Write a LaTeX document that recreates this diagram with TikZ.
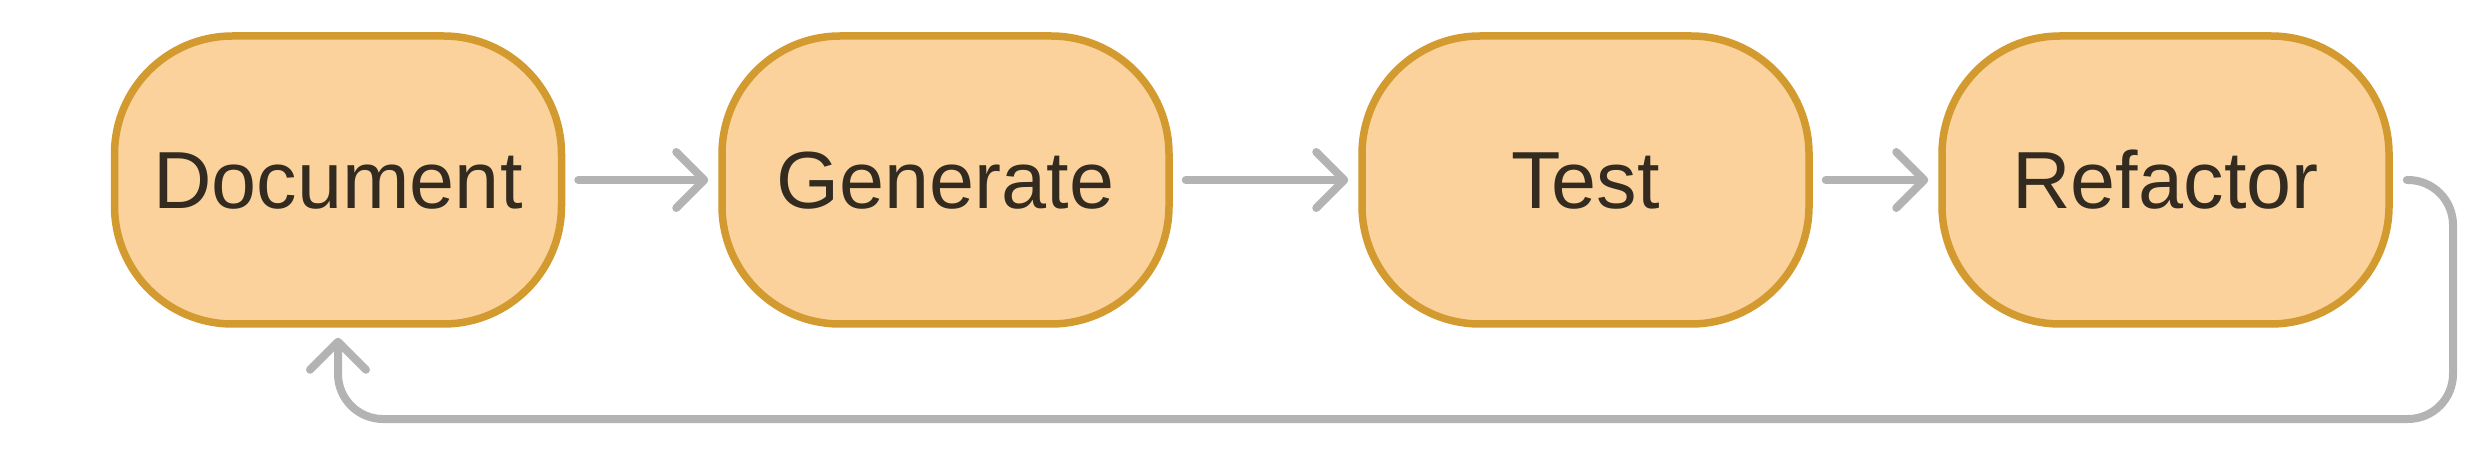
\documentclass[tikz,border=0pt]{standalone}
\usepackage{fontspec}
\setmainfont{Liberation Sans}
\usetikzlibrary{arrows.meta}
\definecolor{boxfill}{HTML}{FBD29C}
\definecolor{boxline}{HTML}{D39A30}
\definecolor{boxtext}{HTML}{332B20}
\definecolor{arrgray}{HTML}{B3B3B3}
\begin{document}
\begin{tikzpicture}[x=1pt,y=-1pt,
  stagebox/.style={draw=boxline, fill=boxfill, line width=7.5pt,
    rounded corners=118pt, minimum width=447pt, minimum height=288pt,
    text=boxtext, font=\fontsize{81}{97}\selectfont,
    text height=58pt, text depth=0pt, inner sep=0pt},
  flow/.style={draw=arrgray, line width=8pt, line cap=round, line join=round,
    -{Straight Barb[length=28pt,width=56pt,line cap=round,line join=round]}}
]
\useasboundingbox (0,0) rectangle (2482,462);
\node[stagebox] (doc) at (338,180) {Document};
\node[stagebox] (gen) at (945.5,180) {Generate};
\node[stagebox] (tst) at (1585.5,180) {Test};
\node[stagebox] (ref) at (2165.5,180) {Refactor};
\draw[flow, shorten <=13pt, shorten >=10pt] (doc.east) -- (gen.west);
\draw[flow, shorten <=13pt, shorten >=10pt] (gen.east) -- (tst.west);
\draw[flow, shorten <=13pt, shorten >=10pt] (tst.east) -- (ref.west);
\coordinate (loopR) at (2453,419);
\draw[flow, rounded corners=45pt] ([xshift=14pt]ref.east) -| (loopR) -| ([yshift=-10pt]doc.south);
\end{tikzpicture}
\end{document}
